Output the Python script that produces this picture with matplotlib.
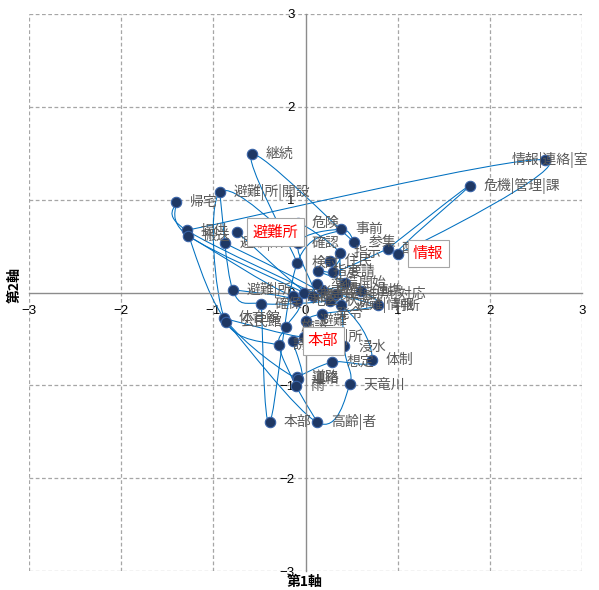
import numpy as np
import matplotlib
matplotlib.use("Agg")
import matplotlib.pyplot as plt
from matplotlib.path import Path
from matplotlib.patches import PathPatch

plt.rcParams['font.family'] = ['Noto Sans CJK JP', 'DejaVu Sans']

# ---- data -------------------------------------------------------------
words = ["継続", "避難|所|開設", "帰宅", "情報|連絡|室", "危機|管理|課",
         "提供", "搬送", "避難所", "避難|所", "危険",
         "事前", "参集", "確認", "指示", "検討",
         "住民", "要請", "情報", "配備", "避難|所",
         "確保", "体育館", "公民館", "施設", "避難",
         "誘導", "本部", "避難|所", "浸水", "想定",
         "体制", "道路", "連絡", "雨", "天竜川",
         "本部", "高齢|者", "災害", "対策", "職員",
         "状況", "避難|所|対応", "避難|情報", "判断", "地区",
         "準備", "発令", "設置", "開始", "連携", "指定"]
x_vals = [-0.58, -0.93, -1.41, 2.60, 1.78,
          -1.29, -1.27, -0.74, -0.87, -0.08,
          0.39, 0.53, -0.08, 0.37, -0.09,
          0.27, 0.30, 1.00, 0.89, -0.79,
          -0.48, -0.88, -0.86, -0.21, 0.00,
          -0.29, -0.14, -0.02, 0.42, 0.29,
          0.72, -0.09, -0.08, -0.10, 0.48,
          -0.39, 0.13, -0.02, 0.08, 0.18,
          0.27, 0.33, 0.39, 0.79, -0.09,
          0.12, 0.18, -0.14, 0.43, 0.60, 0.14]
y_vals = [1.49, 1.08, 0.97, 1.43, 1.15,
          0.67, 0.61, 0.65, 0.53, 0.75,
          0.68, 0.54, 0.53, 0.43, 0.32,
          0.34, 0.22, 0.42, 0.47, 0.03,
          -0.12, -0.28, -0.32, -0.37, -0.31,
          -0.57, -0.52, -0.48, -0.58, -0.75,
          -0.73, -0.91, -0.93, -1.01, -0.99,
          -1.40, -1.40, 0.00, -0.04, 0.03,
          -0.09, -0.02, -0.14, -0.14, -0.09,
          0.09, -0.23, -0.04, 0.10, 0.02, 0.23]
boxed = [7, 17, 26]          # highlighted labels
sequences = [
    [5, 3, 17, 4, 18],
    [14, 0, 11],
    [12, 1, 21, 25],
    [2, 6, 37],
    [2, 5, 40],
    [22, 36, 34, 28, 13],
    [20, 35, 14, 10],
    [7, 38, 12, 10, 11],
    [8, 42, 30, 29, 31],
    [19, 44, 23, 25, 33, 36],
    [21, 27, 24, 46, 43, 49],
    [6, 47, 45, 39, 48, 50, 16, 15],
    [5, 21, 32, 26],
    [1, 19, 20, 40, 41, 43],
    [12, 9, 13, 16, 18],
]
ticks = [-3, -2, -1, 0, 1, 2, 3]

# ---- figure -----------------------------------------------------------
fig = plt.figure(figsize=(5.99, 5.90), dpi=100)
ax = fig.add_axes([29/599, 1-571/590, (582-29)/599, (571-14)/590])
ax.set_xlim(-3, 3)
ax.set_ylim(-3, 3)

# grid + frame
for t in ticks:
    if t == 0:
        continue
    ax.axvline(t, color='#A6A6A6', lw=0.9, ls=(0, (3, 2)), zorder=0)
    ax.axhline(t, color='#A6A6A6', lw=0.9, ls=(0, (3, 2)), zorder=0)

for s in ['top', 'right']:
    ax.spines[s].set_visible(False)
ax.spines['left'].set_position(('data', 0))
ax.spines['bottom'].set_position(('data', 0))
for s in ['left', 'bottom']:
    ax.spines[s].set_color('#8C8C8C')
    ax.spines[s].set_linewidth(1.0)
ax.set_xticks(ticks)
ax.set_yticks(ticks)
ax.tick_params(axis='x', length=0, labelsize=9.5, pad=9)
ax.tick_params(axis='y', length=0, labelsize=9.5, pad=8)
for lab in ax.get_xticklabels() + ax.get_yticklabels():
    lab.set_fontfamily(['Liberation Sans'])

# smooth connecting lines (Excel-like smoothing: Catmull-Rom -> cubic bezier)
P = np.column_stack([x_vals, y_vals])
for seq in sequences:
    pts = P[seq]
    n = len(pts)
    verts = [pts[0]]
    codes = [Path.MOVETO]
    for i in range(n - 1):
        p0 = pts[i - 1] if i > 0 else pts[i]
        p1 = pts[i]
        p2 = pts[i + 1]
        p3 = pts[i + 2] if i + 2 < n else pts[i + 1]
        c1 = p1 + (p2 - p0) / 6.0
        c2 = p2 - (p3 - p1) / 6.0
        verts += [c1, c2, p2]
        codes += [Path.CURVE4] * 3
    ax.add_patch(PathPatch(Path(verts, codes), fc='none', ec='#0070C0',
                           lw=0.75, zorder=2))

ax.plot(x_vals, y_vals, 'o', ms=7.5, mfc='#1F3864', mec='#3A64A8',
        mew=0.8, zorder=3, ls='none')

# labels
for i, (w, x, y) in enumerate(zip(words, x_vals, y_vals)):
    if i in boxed:
        ax.annotate(w, (x, y), xytext=(11, 0), textcoords='offset points',
                    ha='left', va='center', fontsize=11, color='#FF0000',
                    zorder=6,
                    bbox=dict(boxstyle='square,pad=0.35', fc='white',
                              ec='#A6A6A6', lw=0.8))
    else:
        dx = -24 if i == 3 else 10
        ax.annotate(w, (x, y), xytext=(dx, 0), textcoords='offset points',
                    ha='left', va='center', fontsize=10, color='#595959',
                    zorder=4)

fig.text(305/599, 1-582/590, "第1軸", ha='center', va='center',
         fontsize=10, fontweight='bold')
fig.text(15/599, 1-285/590, "第2軸", ha='center', va='center',
         fontsize=10, fontweight='bold', rotation=90)

fig.savefig("out.png", dpi=100)
